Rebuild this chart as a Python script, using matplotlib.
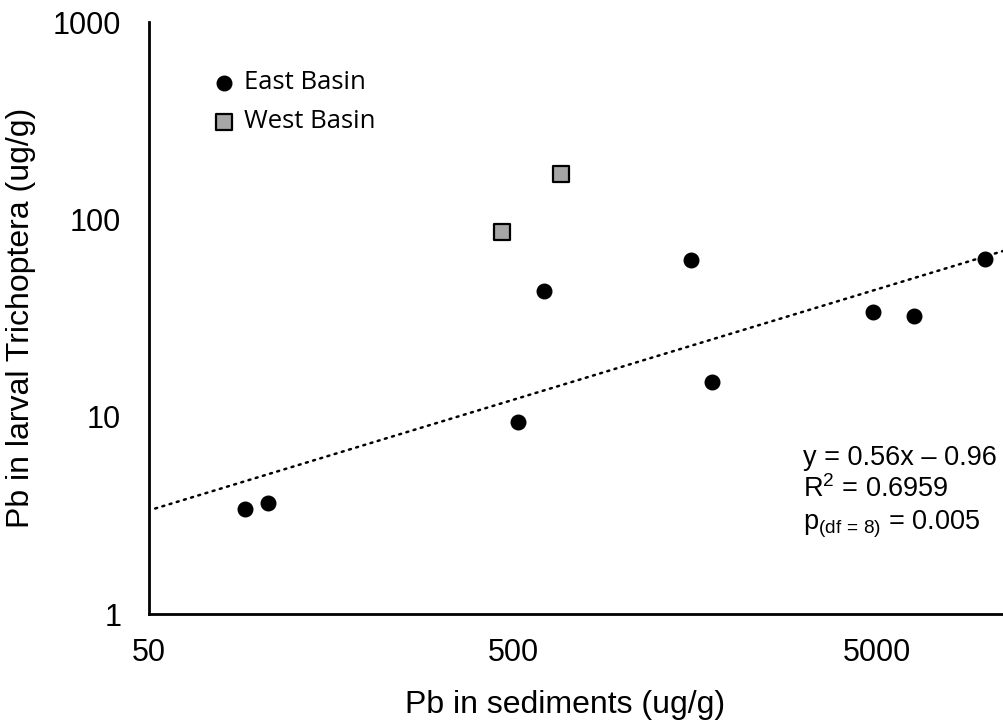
import numpy as np
import matplotlib
matplotlib.use("Agg")
import matplotlib.pyplot as plt

# Pb concentrations (ug/g)
east_sediment = [92, 106, 517, 607, 1540, 1760, 4890, 6330, 9900]
east_larvae = [3.4, 3.65, 9.4, 43.2, 62.3, 15.0, 33.9, 32.4, 62.8]
west_sediment = [466, 676]
west_larvae = [86.6, 169]

x_ticks = [50, 500, 5000]
y_ticks = [1, 10, 100, 1000]

plt.rcParams['font.family'] = 'Liberation Sans'
plt.rcParams['mathtext.fontset'] = 'custom'
plt.rcParams['mathtext.rm'] = 'Liberation Sans'
plt.rcParams['mathtext.it'] = 'Liberation Sans'

W, H = 1004, 725
fig = plt.figure(figsize=(W / 100, H / 100), dpi=100)
ax = fig.add_axes([149 / W, 111 / H, 854 / W, 592 / H])

ax.set_xscale('log')
ax.set_yscale('log')
ax.set_xlim(50, 11100)
ax.set_ylim(1, 1000)

# power trendline fitted on East Basin points (log-log linear fit)
slope, icpt = np.polyfit(np.log10(east_sediment), np.log10(east_larvae), 1)
xs = np.array([52, 11100])
ax.plot(xs, 10 ** (slope * np.log10(xs) + icpt), color='black', lw=1.8,
        linestyle=(0, (0.8, 2.2)), dash_capstyle='round', zorder=2)

ax.scatter(east_sediment, east_larvae, s=110, color='black', zorder=3, label='East Basin')
ax.scatter(west_sediment, west_larvae, s=120, marker='s', color='#a6a6a6',
           edgecolor='black', linewidth=1.6, zorder=3, label='West Basin')

ax.set_xticks(x_ticks)
ax.set_xticklabels([str(v) for v in x_ticks])
ax.set_yticks(y_ticks)
ax.set_yticklabels([str(v) for v in y_ticks])
ax.minorticks_off()
ax.tick_params(length=0, labelsize=22)
ax.tick_params(axis='x', pad=17)
ax.tick_params(axis='y', pad=20)

for side in ['top', 'right']:
    ax.spines[side].set_visible(False)
for side in ['left', 'bottom']:
    ax.spines[side].set_linewidth(2)
    ax.spines[side].set_color('black')

fig.text(565 / W, 1 - 713 / H, 'Pb in sediments (ug/g)', fontsize=23,
         ha='center', va='baseline')
fig.text(36 / W, 1 - 318 / H, 'Pb in larval Trichoptera (ug/g)', fontsize=23,
         rotation=90, ha='right', va='center')

leg = ax.legend(loc='upper left', bbox_to_anchor=(198 / W, 1 - 60 / H),
                bbox_transform=fig.transFigure, frameon=False,
                prop={'family': 'Open Sans', 'size': 18.5}, handletextpad=0.2,
                labelspacing=0.55, borderaxespad=0, borderpad=0.4, handlelength=1.2)

eq_lines = ['y = 0.56x \u2013 0.96', r'R$^2$ = 0.6959', r'p$_{\mathrm{(df\,=\,8)}}$ = 0.005']
for txt, base in zip(eq_lines, [465, 497, 530]):
    fig.text(803 / W, 1 - base / H, txt, fontsize=19.5, va='baseline')

fig.savefig('out.png', dpi=100)
